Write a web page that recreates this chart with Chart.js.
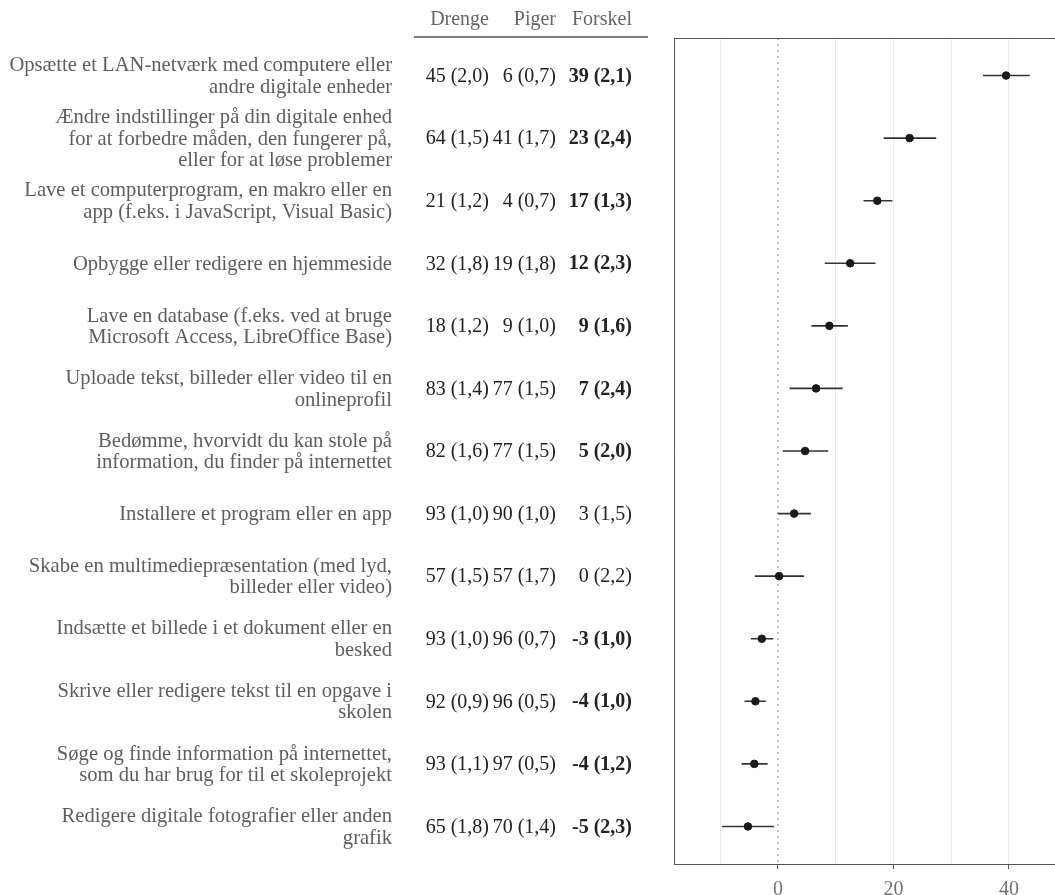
<!DOCTYPE html>
<html>
<head>
<meta charset="utf-8">
<script src="https://cdn.jsdelivr.net/npm/chart.js@4"></script>
<style>
  html, body { margin: 0; background: #fff; overflow: hidden; }
  canvas { display: block; }
</style>
</head>
<body>
<canvas id="myChart" width="1060" height="895"></canvas>
<script>
const labels = [
  ['Opsætte et LAN-netværk med computere eller', 'andre digitale enheder'],
  ['Ændre indstillinger på din digitale enhed', 'for at forbedre måden, den fungerer på,', 'eller for at løse problemer'],
  ['Lave et computerprogram, en makro eller en', 'app (f.eks. i JavaScript, Visual Basic)'],
  ['Opbygge eller redigere en hjemmeside'],
  ['Lave en database (f.eks. ved at bruge', 'Microsoft Access, LibreOffice Base)'],
  ['Uploade tekst, billeder eller video til en', 'onlineprofil'],
  ['Bedømme, hvorvidt du kan stole på', 'information, du finder på internettet'],
  ['Installere et program eller en app'],
  ['Skabe en multimediepræsentation (med lyd,', 'billeder eller video)'],
  ['Indsætte et billede i et dokument eller en', 'besked'],
  ['Skrive eller redigere tekst til en opgave i', 'skolen'],
  ['Søge og finde information på internettet,', 'som du har brug for til et skoleprojekt'],
  ['Redigere digitale fotografier eller anden', 'grafik']
];
const headers = ['Drenge', 'Piger', 'Forskel'];
const drenge = ['45 (2,0)', '64 (1,5)', '21 (1,2)', '32 (1,8)', '18 (1,2)', '83 (1,4)', '82 (1,6)', '93 (1,0)', '57 (1,5)', '93 (1,0)', '92 (0,9)', '93 (1,1)', '65 (1,8)'];
const piger = ['6 (0,7)', '41 (1,7)', '4 (0,7)', '19 (1,8)', '9 (1,0)', '77 (1,5)', '77 (1,5)', '90 (1,0)', '57 (1,7)', '96 (0,7)', '96 (0,5)', '97 (0,5)', '70 (1,4)'];
const forskel = ['39 (2,1)', '23 (2,4)', '17 (1,3)', '12 (2,3)', '9 (1,6)', '7 (2,4)', '5 (2,0)', '3 (1,5)', '0 (2,2)', '-3 (1,0)', '-4 (1,0)', '-4 (1,2)', '-5 (2,3)'];
const significant = [true, true, true, true, true, true, true, false, false, true, true, true, true];

// estimate and 95% interval as plotted
const estimate = [39.5, 22.8, 17.2, 12.5, 8.9, 6.6, 4.7, 2.8, 0.2, -2.8, -3.9, -4.1, -5.2];
const ciLow = [35.5, 18.3, 14.8, 8.1, 5.8, 2.0, 0.8, 0.0, -4.0, -4.7, -5.8, -6.3, -9.7];
const ciHigh = [43.6, 27.4, 19.8, 16.9, 12.1, 11.2, 8.7, 5.7, 4.5, -0.8, -2.1, -1.8, -0.7];

const xTicks = [-10, 0, 10, 20, 30, 40];
const xTickLabels = [0, 20, 40];

Chart.defaults.font.family = "'Liberation Serif', serif";
Chart.defaults.font.size = 20;

const rows = labels.map((l, i) => i + 1);

const ciData = [];
rows.forEach((r, i) => {
  ciData.push({x: ciLow[i], y: r}, {x: ciHigh[i], y: r}, {x: null, y: null});
});

// row labels, table columns and panel top edge
const tablePlugin = {
  id: 'table',
  afterDraw(chart) {
    const ctx = chart.ctx;
    const yScale = chart.scales.y;
    const area = chart.chartArea;
    ctx.save();
    ctx.strokeStyle = '#555';
    ctx.lineWidth = 1;
    ctx.beginPath();
    ctx.moveTo(area.left, area.top + 0.5);
    ctx.lineTo(area.right, area.top + 0.5);
    ctx.stroke();

    const colRight = [489, 556, 632];
    ctx.textAlign = 'right';
    ctx.font = "20px 'Liberation Serif'";
    ctx.fillStyle = '#666';
    ctx.textBaseline = 'alphabetic';
    headers.forEach((h, j) => ctx.fillText(h, colRight[j], 25));
    ctx.lineWidth = 1.3;
    ctx.beginPath();
    ctx.moveTo(414, 37);
    ctx.lineTo(648, 37);
    ctx.stroke();

    ctx.textBaseline = 'middle';
    const lineH = 21.5;
    rows.forEach((r, i) => {
      const y = yScale.getPixelForValue(r) + 1;
      const lines = labels[i];
      ctx.font = "20.6px 'Liberation Serif'";
      ctx.fillStyle = '#5e5e5e';
      lines.forEach((t, k) => {
        ctx.fillText(t, 392, y + (k - (lines.length - 1) / 2) * lineH);
      });
      ctx.fillStyle = '#222';
      [drenge, piger, forskel].forEach((col, j) => {
        const bold = j === 2 && significant[i];
        ctx.font = (bold ? 'bold ' : '') + "20px 'Liberation Serif'";
        ctx.fillText(col[i], colRight[j], y);
      });
    });
    ctx.restore();
  }
};

new Chart(document.getElementById('myChart'), {
  type: 'scatter',
  data: {
    datasets: [
      {
        label: 'Forskel',
        data: rows.map((r, i) => ({x: estimate[i], y: r})),
        backgroundColor: '#1a1a1a',
        borderColor: '#1a1a1a',
        pointRadius: 3.8,
        pointHoverRadius: 3.8
      },
      {
        label: 'CI',
        data: ciData,
        showLine: true,
        spanGaps: false,
        borderColor: '#333',
        borderWidth: 1.6,
        pointRadius: 0
      },
      {
        label: 'zero',
        data: [{x: 0, y: 0.4}, {x: 0, y: 13.6}],
        showLine: true,
        borderColor: '#888',
        borderWidth: 1,
        borderDash: [2, 4],
        pointRadius: 0
      }
    ]
  },
  options: {
    responsive: false,
    animation: false,
    layout: { padding: { top: 38, left: 0, right: 0, bottom: 0 } },
    plugins: { legend: { display: false }, tooltip: { enabled: false } },
    scales: {
      x: {
        type: 'linear',
        min: -18,
        max: 48,
        afterBuildTicks: s => { s.ticks = xTicks.map(v => ({value: v})); },
        afterFit: s => { s.height = 31; },
        ticks: {
          autoSkip: false,
          maxRotation: 0,
          color: '#707070',
          padding: 9,
          font: { size: 20 },
          callback: v => xTickLabels.includes(v) ? String(v) : ''
        },
        grid: {
          color: c => c.tick && c.tick.value === 0 ? 'rgba(0,0,0,0)' : '#ebebeb',
          tickColor: c => c.tick && xTickLabels.includes(c.tick.value) ? '#555' : 'rgba(0,0,0,0)',
          tickLength: 5,
          lineWidth: 1
        },
        border: { display: true, color: '#555', width: 1 }
      },
      y: {
        type: 'linear',
        reverse: true,
        min: 0.4,
        max: 13.6,
        afterBuildTicks: s => { s.ticks = rows.map(v => ({value: v})); },
        afterFit: s => { s.width = 674; },
        ticks: { display: false },
        grid: { display: false, drawTicks: false },
        border: { display: true, color: '#555', width: 1 }
      }
    }
  },
  plugins: [tablePlugin]
});
</script>
</body>
</html>
